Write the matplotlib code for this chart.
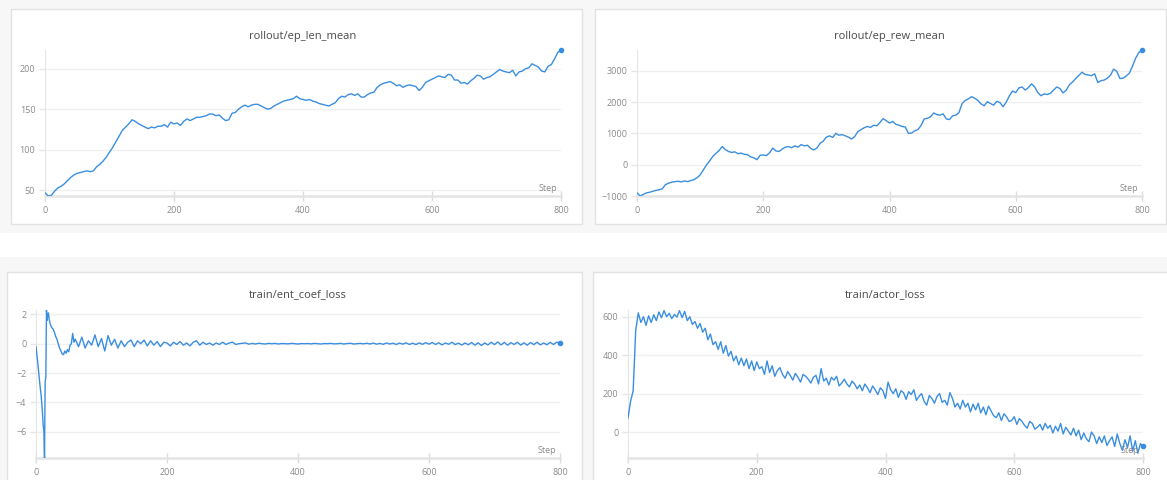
import matplotlib
matplotlib.use('Agg')
import matplotlib.pyplot as plt
import numpy as np
from matplotlib.patches import Rectangle

plt.rcParams['font.family'] = ['Open Sans', 'DejaVu Sans']

W, H = 1167, 480
blue = '#3a8ee0'

# rollout/ep_len_mean, logged every 5 steps
len_steps = np.arange(0, 801, 5)
ep_len_mean = [
    47, 43, 44, 49, 53, 55, 58, 62, 66, 69, 71, 72, 73, 74, 73, 74, 79, 82, 86, 91,
    97, 103, 110, 117, 124, 128, 132, 137, 135, 132, 130, 128, 126, 128, 127, 129, 129, 131, 128, 134,
    132, 133, 130, 135, 138, 136, 138, 140, 140, 141, 142, 144, 144, 142, 143, 139, 136, 137, 145, 146,
    150, 153, 155, 153, 155, 156, 156, 154, 152, 150, 151, 154, 156, 158, 160, 161, 162, 163, 166, 163,
    162, 161, 162, 160, 159, 157, 156, 155, 154, 156, 158, 163, 166, 165, 168, 169, 167, 169, 165, 165,
    168, 170, 171, 177, 180, 182, 183, 184, 182, 179, 180, 177, 179, 180, 179, 178, 173, 177, 183, 185,
    187, 189, 191, 190, 189, 193, 192, 186, 186, 182, 183, 181, 185, 188, 192, 191, 187, 189, 190, 193,
    196, 199, 197, 196, 195, 198, 191, 196, 197, 200, 201, 206, 204, 202, 197, 196, 203, 205, 212, 220,
    223,
]

# rollout/ep_rew_mean, logged every 5 steps
rew_steps = np.arange(0, 801, 5)
ep_rew_mean = [
    -900, -1000, -950, -900, -880, -850, -820, -800, -770, -640, -590, -560, -540, -530, -550, -520,
    -540, -510, -480, -420, -330, -170, -10, 120, 260, 360, 450, 580, 480, 420, 390, 410,
    350, 370, 330, 320, 250, 220, 160, 300, 310, 290, 380, 530, 440, 420, 500, 560,
    580, 540, 600, 560, 640, 600, 620, 520, 470, 530, 680, 750, 880, 920, 870, 1000,
    940, 960, 920, 880, 820, 900, 1060, 1120, 1180, 1220, 1190, 1260, 1240, 1350, 1470, 1400,
    1330, 1380, 1290, 1260, 1220, 1200, 1000, 1010, 1080, 1120, 1250, 1460, 1480, 1530, 1650, 1600,
    1580, 1620, 1460, 1440, 1560, 1580, 1660, 1950, 2050, 2100, 2170, 2120, 2050, 1940, 1880, 2010,
    1950, 1900, 2020, 1980, 1850, 2000, 2200, 2350, 2300, 2450, 2480, 2380, 2460, 2580, 2480, 2300,
    2200, 2260, 2240, 2280, 2380, 2480, 2430, 2290, 2380, 2550, 2640, 2750, 2850, 2950, 2880, 2860,
    2840, 2900, 2620, 2680, 2700, 2760, 2850, 3050, 2980, 2750, 2760, 2830, 2920, 3150, 3400, 3580,
    3660,
]

# train/ent_coef_loss: dense start, then every 5 steps
ent_steps = np.array(
    [0, 2, 4, 6, 8, 10, 11, 12, 13, 14, 15, 16, 17, 18, 19, 20, 22, 24, 26, 28,
     30, 32, 34, 36, 38, 40, 42, 44, 46, 48, 50, 52, 54, 56, 58]
    + list(range(60, 801, 5))
)
ent_coef_loss = [
    -0.2, -1.0, -1.9, -2.8, -3.6, -4.8, -5.6, -5.9, -7.8, -2.6, -2.3, 2.3, 1.6, 2.0, 2.1, 1.7,
    1.3, 1.1, 1.0, 0.8, 0.5, 0.3, 0.0, -0.3, -0.5, -0.7, -0.75, -0.5, -0.65, -0.4, -0.55, -0.1,
    0.0, 0.7, 0.1,
    0.3, -0.2, 0.45, -0.3, 0.2, -0.1, 0.6, -0.2, 0.35, -0.5,
    0.55, -0.1, 0.3, -0.3, 0.2, -0.2, 0.1, 0.25, -0.2, 0.2,
    0.0, 0.25, -0.15, 0.2, -0.1, 0.15, -0.2, 0.1, 0.05, -0.15,
    0.1, -0.05, 0.15, -0.1, 0.05, -0.15, 0.1, 0.2, -0.1, 0.1,
    -0.05, 0.05, -0.1, 0.05, -0.05, 0.1, -0.05, 0.05, 0.1, -0.05,
    0.0, 0.03, 0.05, -0.03, 0.02, -0.02, 0.03, 0.0, -0.02, 0.02,
    0.0, 0.02, -0.02, 0.01, 0.0, -0.01, 0.02, 0.0, -0.02, 0.01,
    0.0, 0.01, -0.01, 0.02, 0.0, -0.02, 0.01, 0.0, 0.02, -0.01,
    0.0, 0.02, -0.02, 0.01, 0.03, -0.02, 0.0, 0.02, -0.01, 0.03,
    -0.02, 0.04, -0.03, 0.02, -0.04, 0.05, -0.02, 0.03, -0.05, 0.04,
    -0.03, 0.06, -0.05, 0.04, -0.06, 0.05, -0.04, 0.07, -0.03, 0.08,
    -0.05, 0.06, -0.08, 0.05, -0.04, 0.1, -0.06, 0.04, -0.09, 0.05,
    -0.07, 0.08, -0.1, 0.06, -0.12, 0.05, -0.08, 0.1, -0.06, 0.12,
    -0.08, 0.09, -0.1, 0.07, -0.05, 0.1, -0.09, 0.06, -0.1, 0.08,
    -0.06, 0.1, -0.08, 0.05, -0.07, 0.09, -0.05, 0.1, 0.05,
]

# train/actor_loss, logged every 4 steps
actor_steps = np.arange(0, 801, 4)
actor_loss = [
    73, 160, 215, 530, 620, 570, 600, 555, 605, 570,
    610, 580, 625, 595, 632, 600, 618, 590, 612, 598,
    632, 595, 628, 580, 600, 560, 575, 540, 565, 520,
    540, 480, 510, 455, 470, 430, 470, 410, 450, 395,
    420, 370, 395, 350, 385, 345, 380, 330, 370, 320,
    365, 330, 340, 300, 370, 310, 345, 290, 320, 335,
    300, 280, 315, 295, 270, 305, 285, 260, 300, 290,
    275, 255, 285, 295, 250, 330, 265, 280, 245, 285,
    270, 290, 240, 255, 275, 250, 235, 265, 250, 225,
    245, 215, 250, 230, 205, 240, 220, 195, 230, 215,
    175, 260, 220, 200, 225, 180, 215, 205, 170, 210,
    195, 220, 165, 185, 200, 160, 140, 190, 175, 150,
    185, 200, 155, 165, 140, 205, 175, 130, 150, 120,
    165, 130, 150, 105, 145, 115, 150, 100, 130, 90,
    135, 110, 85, 75, 100, 60, 95, 80, 55, 60,
    80, 40, 70, 55, 35, 20, 55, 45, 15, 25,
    40, 10, 45, 20, 35, -5, 30, 5, 45, -10,
    25, 5, -15, 20, -20, 10, -40, -5, -35, -50,
    0, -20, -60, -25, -55, -20, -70, -45, -25, -75,
    -10, -60, -95, -40, -80, -20, -100, -45, -110, -60,
    -75,
]

x_ticks = [0, 200, 400, 600, 800]

fig = plt.figure(figsize=(W / 100, H / 100), dpi=100)
fig.patch.set_facecolor('white')


def px_box(x0, y0, x1, y1):
    return (x0 / W, 1 - y1 / H), (x1 - x0) / W, (y1 - y0) / H


# page background bands and the white cards, kept beneath the axes
for y0, y1 in [(0, 233), (257, 480)]:
    xy, w, h = px_box(0, y0, W, y1)
    fig.patches.append(Rectangle(xy, w, h, transform=fig.transFigure,
                                 facecolor='#f7f7f7', edgecolor='none', zorder=-3))
for card in [(11, 9, 582, 224), (595, 9, 1166, 224), (7, 272, 582, 492), (593, 272, 1180, 492)]:
    xy, w, h = px_box(*card)
    fig.patches.append(Rectangle(xy, w, h, transform=fig.transFigure,
                                 facecolor='white', edgecolor='#e2e2e2', lw=1, zorder=-2))


def panel(box, title, title_y, steps, values, yticks, ylim):
    x0, y0, x1, y1 = box
    xy, w, h = px_box(x0, y0, x1, y1)
    ax = fig.add_axes([xy[0], xy[1], w, h])
    ax.patch.set_alpha(0)
    ax.plot(steps, values, color=blue, lw=1.0, solid_joinstyle='round', zorder=3)
    ax.plot(steps[-1], values[-1], 'o', ms=3, color=blue, zorder=4, clip_on=False)
    ax.set_xlim(0, 800)
    ax.set_ylim(*ylim)
    ax.set_xticks(x_ticks)
    ax.set_yticks(yticks)
    ax.grid(axis='y', color='#f0f0f0', lw=1)
    ax.set_axisbelow(True)
    for s in ['top', 'right']:
        ax.spines[s].set_visible(False)
    ax.spines['left'].set_color('#e6e6e6')
    ax.spines['bottom'].set_color('#e4e4e4')
    ax.spines['bottom'].set_linewidth(1.8)
    ax.tick_params(axis='y', length=4, width=1, color='#e6e6e6', labelcolor='#8a8a8a',
                   labelsize=6.5, pad=3)
    ax.tick_params(axis='x', direction='inout', length=7, width=1, color='#dcdcdc',
                   labelcolor='#8a8a8a', labelsize=6.5, pad=4)
    fig.text((x0 + x1) / 2 / W, 1 - title_y / H, title, ha='center', va='center',
             fontsize=8, color='#4a4a4a')
    fig.text((x1 - 4) / W, 1 - (y1 - 3) / H, 'Step', ha='right', va='bottom',
             fontsize=6.5, color='#8a8a8a')
    return ax


panel((45, 50, 561, 196), 'rollout/ep_len_mean', 36, len_steps, ep_len_mean,
      [50, 100, 150, 200], (min(ep_len_mean), max(ep_len_mean)))
panel((637, 50, 1142, 196), 'rollout/ep_rew_mean', 36, rew_steps, ep_rew_mean,
      [-1000, 0, 1000, 2000, 3000], (min(ep_rew_mean), max(ep_rew_mean)))
panel((36, 310, 560, 458), 'train/ent_coef_loss', 295, ent_steps, ent_coef_loss,
      [-6, -4, -2, 0, 2], (min(ent_coef_loss), max(ent_coef_loss)))
panel((628, 310, 1143, 458), 'train/actor_loss', 295, actor_steps, actor_loss,
      [0, 200, 400, 600], (-135, 635))

fig.savefig('out.png', dpi=100)
